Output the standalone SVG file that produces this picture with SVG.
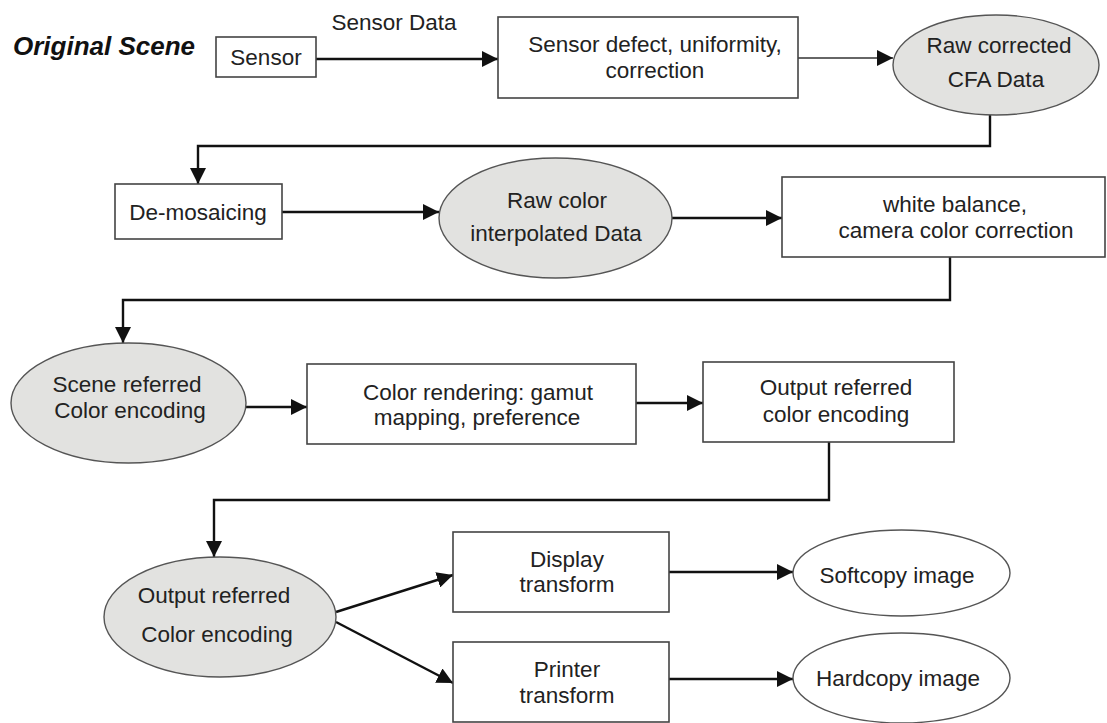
<svg xmlns="http://www.w3.org/2000/svg" width="1107" height="723" viewBox="0 0 1107 723">
<defs>
<marker id="ah" viewBox="0 0 10 10" refX="10" refY="5" markerWidth="16" markerHeight="16" markerUnits="userSpaceOnUse" orient="auto">
<path d="M0,0 L10,5 L0,10 Z" fill="#111"/>
</marker>
<style>
.box{fill:#fff;stroke:#444;stroke-width:1.6}
.ell{fill:#e2e2e0;stroke:#555;stroke-width:1.4}
.ellw{fill:#fff;stroke:#555;stroke-width:1.4}
.t{font-family:"Liberation Sans",Arial,sans-serif;font-size:22.5px;fill:#222;text-anchor:middle}
.c{fill:none;stroke:#111;stroke-width:2.4}
.cthin{fill:none;stroke:#333;stroke-width:1.3}
</style>
</defs>
<rect width="1107" height="723" fill="#fff"/>
<text x="13" y="55" font-family="Liberation Sans,Arial,sans-serif" font-size="26" font-weight="bold" font-style="italic" fill="#111">Original Scene</text>
<text class="t" x="394" y="30">Sensor Data</text>

<g id="connectors">
<line class="c" x1="316" y1="59" x2="498" y2="59" marker-end="url(#ah)"/>
<line class="cthin" x1="798" y1="58" x2="893" y2="58" marker-end="url(#ah)"/>
<polyline class="c" points="990,115 990,146 198,146 198,184" marker-end="url(#ah)"/>
<line class="c" x1="282" y1="212" x2="439" y2="212" marker-end="url(#ah)"/>
<line class="c" x1="672" y1="218" x2="782" y2="218" marker-end="url(#ah)"/>
<polyline class="c" points="950,257 950,300 123,300 123,343" marker-end="url(#ah)"/>
<line class="c" x1="246" y1="407" x2="307" y2="407" marker-end="url(#ah)"/>
<line class="c" x1="636" y1="403" x2="703" y2="403" marker-end="url(#ah)"/>
<polyline class="c" points="829,442 829,500 214,500 214,557" marker-end="url(#ah)"/>
<line class="c" x1="336" y1="612" x2="453" y2="575" marker-end="url(#ah)"/>
<line class="c" x1="336" y1="622" x2="453" y2="683" marker-end="url(#ah)"/>
<line class="c" x1="669" y1="572" x2="793" y2="572" marker-end="url(#ah)"/>
<line class="c" x1="669" y1="679" x2="793" y2="679" marker-end="url(#ah)"/>
</g>

<g id="sensor"><rect class="box" x="216" y="37" width="100" height="40"/><text class="t" x="266" y="65">Sensor</text></g>
<g id="defect"><rect class="box" x="498" y="17" width="300" height="81"/><text class="t" x="655" y="52">Sensor defect, uniformity,</text><text class="t" x="655" y="78">correction</text></g>
<g id="rawcfa"><ellipse class="ell" cx="996" cy="65" rx="103" ry="50"/><text class="t" x="999" y="53">Raw corrected</text><text class="t" x="996" y="87">CFA Data</text></g>
<g id="demosaic"><rect class="box" x="115" y="184" width="167" height="55"/><text class="t" x="198" y="220">De-mosaicing</text></g>
<g id="rawcolor"><ellipse class="ell" cx="555.5" cy="218" rx="116.5" ry="60"/><text class="t" x="557" y="208">Raw color</text><text class="t" x="556" y="241">interpolated Data</text></g>
<g id="whitebal"><rect class="box" x="782" y="177" width="323" height="80"/><text class="t" x="955" y="212">white balance,</text><text class="t" x="956" y="238">camera color correction</text></g>
<g id="scene"><ellipse class="ell" cx="128.5" cy="403" rx="117.5" ry="60"/><text class="t" x="127" y="392">Scene referred</text><text class="t" x="130" y="418">Color encoding</text></g>
<g id="render"><rect class="box" x="307" y="364" width="329" height="80"/><text class="t" x="478" y="400">Color rendering: gamut</text><text class="t" x="477" y="425">mapping, preference</text></g>
<g id="outbox"><rect class="box" x="703" y="362" width="251" height="80"/><text class="t" x="836" y="395">Output referred</text><text class="t" x="836" y="422">color encoding</text></g>
<g id="outell"><ellipse class="ell" cx="220" cy="617" rx="116" ry="60"/><text class="t" x="214" y="603">Output referred</text><text class="t" x="217" y="642">Color encoding</text></g>
<g id="display"><rect class="box" x="453" y="532" width="216" height="80"/><text class="t" x="567" y="567">Display</text><text class="t" x="567" y="592">transform</text></g>
<g id="printer"><rect class="box" x="453" y="642" width="216" height="80"/><text class="t" x="567" y="677">Printer</text><text class="t" x="567" y="703">transform</text></g>
<g id="softcopy"><ellipse class="ellw" cx="901.5" cy="573" rx="108.5" ry="43"/><text class="t" x="897" y="583">Softcopy image</text></g>
<g id="hardcopy"><ellipse class="ellw" cx="901.5" cy="678" rx="108.5" ry="45"/><text class="t" x="898" y="686">Hardcopy image</text></g>
</svg>
